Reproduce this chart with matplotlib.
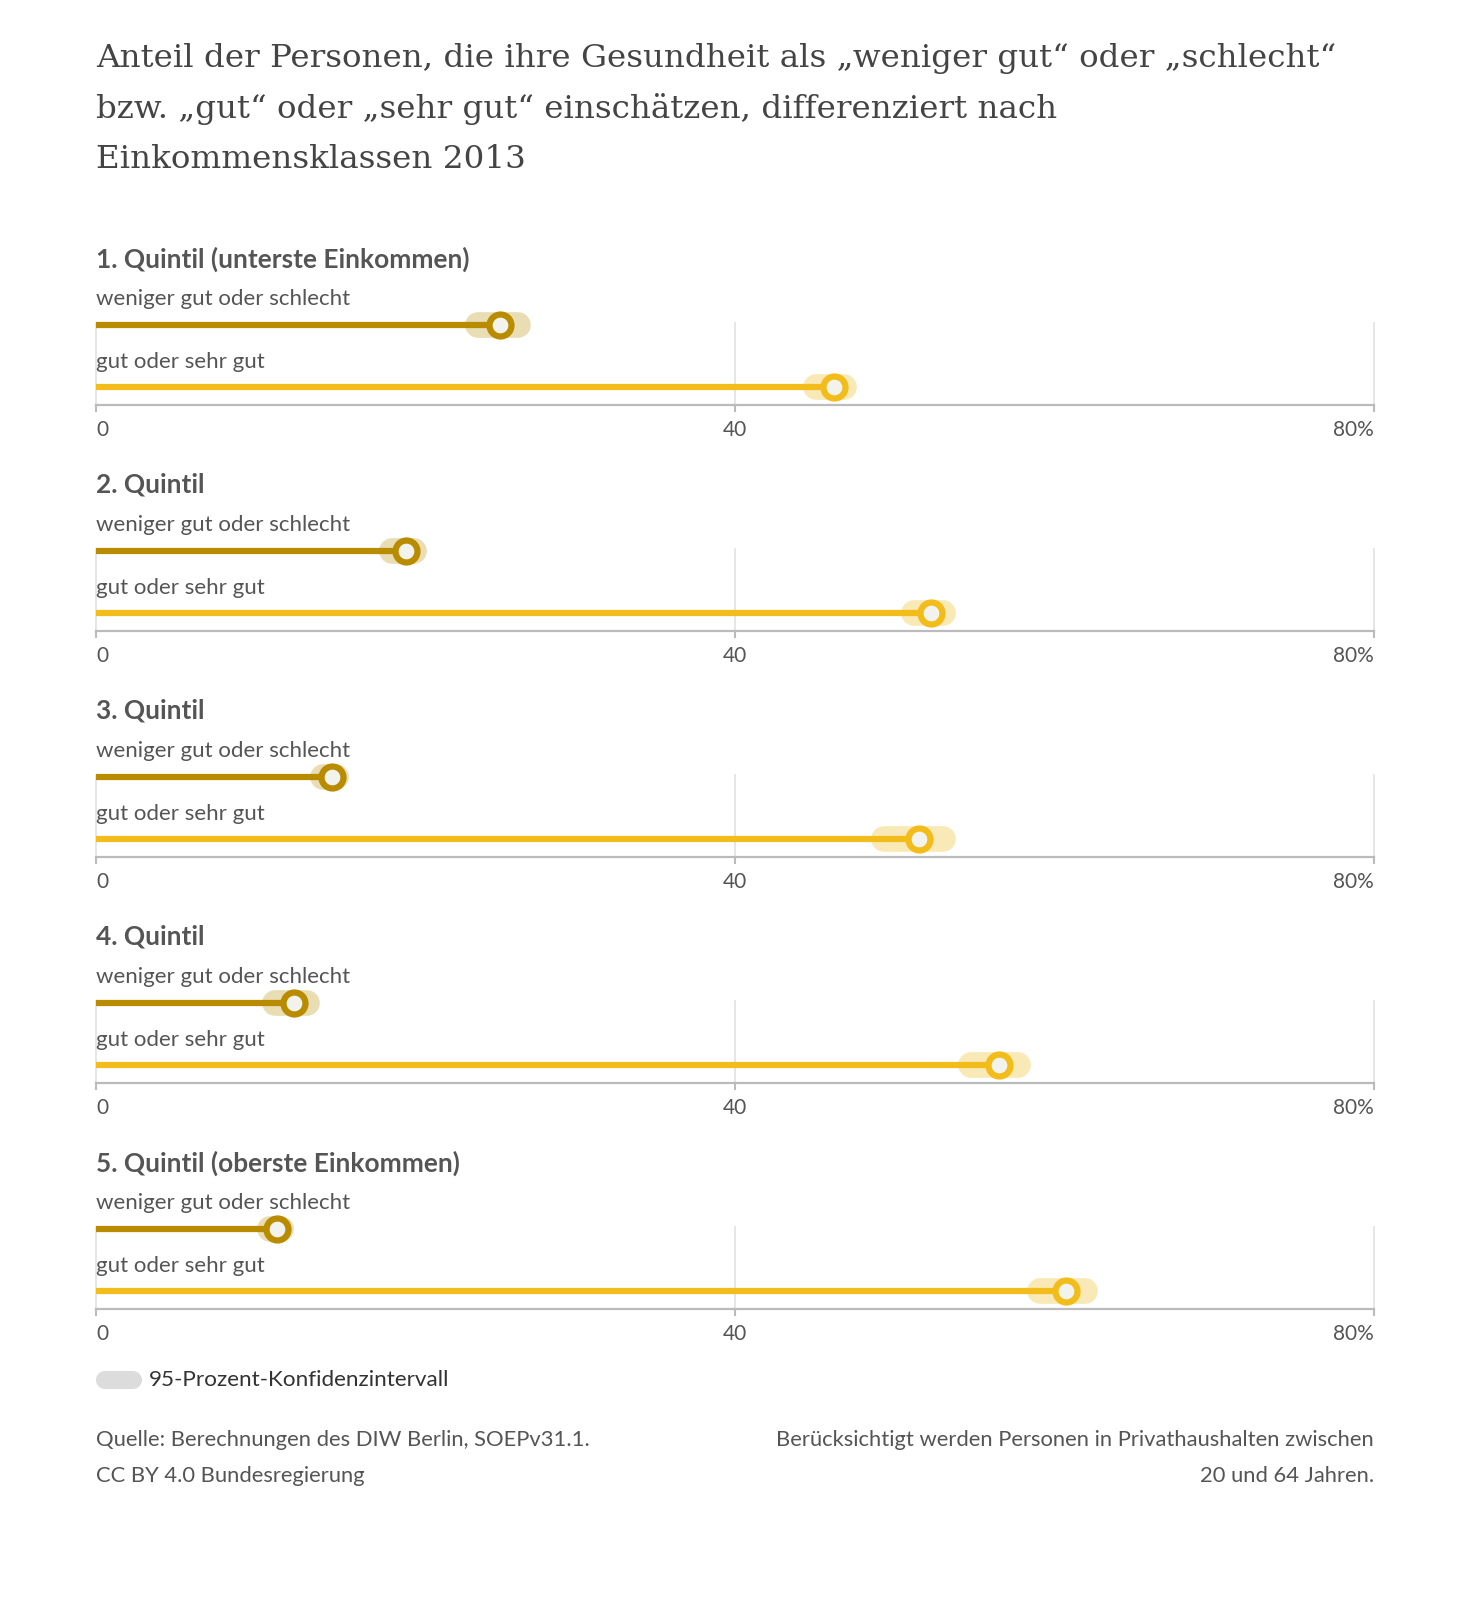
import matplotlib
matplotlib.use('Agg')
from matplotlib import pyplot as plt

# data (percent)
quintile_titles = ['1. Quintil (unterste Einkommen)', '2. Quintil', '3. Quintil',
                   '4. Quintil', '5. Quintil (oberste Einkommen)']
series_labels = ['weniger gut oder schlecht', 'gut oder sehr gut']
bad_values = [25.3, 19.4, 14.8, 12.4, 11.3]
bad_ci_low = [23.9, 18.5, 14.2, 11.2, 10.9]
bad_ci_high = [26.4, 19.9, 15.0, 13.2, 11.6]
good_values = [46.2, 52.3, 51.5, 56.5, 60.7]
good_ci_low = [45.1, 51.2, 49.3, 54.8, 59.1]
good_ci_high = [46.8, 53.0, 53.0, 57.7, 61.9]
ticks = [0, 40, 80]
tick_labels = ['0', '40', '80%']

TEXT = '#555555'
DARK = '#444444'
BAD = '#b98c00'
BAD_CI = '#e9ddb4'
GOOD = '#f2bc1a'
GOOD_CI = '#f9e9b6'
FACE = '#f3f3ee'

W, H = 1474, 1597
X0, X80 = 96, 1374
per_px = 80 / (X80 - X0)
SANS = ['Lato', 'DejaVu Sans']

fig = plt.figure(figsize=(W / 100, H / 100), dpi=100)
ax = fig.add_axes([0, 0, 1, 1])
ax.set_xlim(-X0 * per_px, 80 + (W - X80) * per_px)
ax.set_ylim(H, 0)
ax.axis('off')

title = ['Anteil der Personen, die ihre Gesundheit als \u201eweniger gut\u201c oder \u201eschlecht\u201c',
         'bzw. \u201egut\u201c oder \u201esehr gut\u201c einsch\u00e4tzen, differenziert nach',
         'Einkommensklassen 2013']
for k, line in enumerate(title):
    ax.text(0, 59 + k * 50, line, fontsize=23.4, family=['DejaVu Serif'], color=DARK,
            ha='left', va='center')

for i, name in enumerate(quintile_titles):
    off = i * 226
    ax.text(0, 259 + off, name, fontsize=18.9, family=SANS, weight='bold', color=TEXT,
            ha='left', va='center')
    ax.text(0, 299 + off, series_labels[0], fontsize=16, family=SANS, color=TEXT,
            ha='left', va='center')
    ax.text(0, 362 + off, series_labels[1], fontsize=16, family=SANS, color=TEXT,
            ha='left', va='center')

    # grid and axis
    for t, lab in zip(ticks, tick_labels):
        ax.plot([t, t], [323 + off, 405 + off], color='#e2e2e2', lw=1.2, zorder=1)
        ax.plot([t, t], [405 + off, 411 + off], color='#bbbbbb', lw=1.5, zorder=1)
        ha = 'left' if t == 0 else ('right' if t == 80 else 'center')
        ax.text(t, 430 + off, lab, fontsize=15, family=SANS, color=TEXT, ha=ha, va='center')
    ax.plot([0, 80], [405 + off, 405 + off], color='#bbbbbb', lw=1.6, zorder=1)

    rows = [(325 + off, bad_values[i], bad_ci_low[i], bad_ci_high[i], BAD, BAD_CI),
            (387 + off, good_values[i], good_ci_low[i], good_ci_high[i], GOOD, GOOD_CI)]
    for y, v, lo, hi, c, cc in rows:
        ax.plot([lo, hi], [y, y], color=cc, lw=18.5, solid_capstyle='round', zorder=2)
        ax.plot([0, v], [y, y], color=c, lw=4.5, solid_capstyle='butt', zorder=3)
        ax.plot([v], [y], marker='o', ms=15.8, mew=4.5, mfc=FACE, mec=c, zorder=4)

# legend
ax.plot([9 * per_px, 37 * per_px], [1380, 1380], color='#dcdcdc', lw=13,
        solid_capstyle='round')
ax.text(53 * per_px, 1380, '95-Prozent-Konfidenzintervall', fontsize=16.2, family=SANS,
        color='#333333', ha='left', va='center')

ax.text(0, 1440, 'Quelle: Berechnungen des DIW Berlin, SOEPv31.1.', fontsize=15.8, family=SANS,
        color=TEXT, ha='left', va='center')
ax.text(0, 1476, 'CC BY 4.0 Bundesregierung', fontsize=15.8, family=SANS,
        color=TEXT, ha='left', va='center')
ax.text(80, 1440, 'Ber\u00fccksichtigt werden Personen in Privathaushalten zwischen', fontsize=15.8,
        family=SANS, color=TEXT, ha='right', va='center')
ax.text(80, 1476, '20 und 64 Jahren.', fontsize=15.8, family=SANS, color=TEXT,
        ha='right', va='center')

fig.savefig('out.png', dpi=100, facecolor='white')
